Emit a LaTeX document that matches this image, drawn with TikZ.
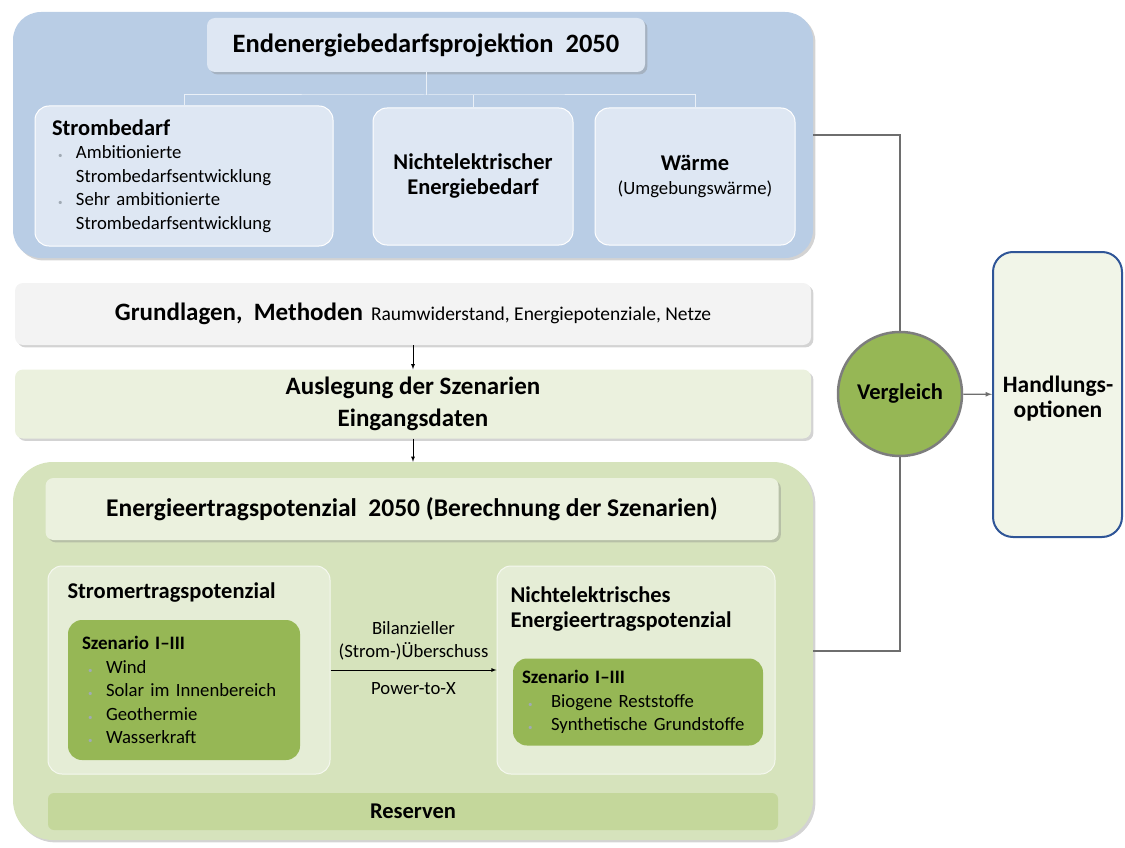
\documentclass[tikz,border=0pt]{standalone}
\usepackage{fontspec}
\setmainfont{Carlito}
\usepackage{tikz}
\usepackage{xcolor}
\usetikzlibrary{arrows,positioning,calc,shadows}
\definecolor{skyblue}{RGB}{185,205,229}
\definecolor{paleblue}{RGB}{222,231,243}
\definecolor{mist}{RGB}{243,243,243}
\definecolor{sage}{RGB}{214,227,188}
\definecolor{palesage}{RGB}{235,241,222}
\definecolor{lightsage}{RGB}{229,237,214}
\definecolor{olive}{RGB}{150,183,85}
\definecolor{reserve}{RGB}{196,215,155}
\definecolor{navy}{RGB}{47,85,151}
\definecolor{wire}{RGB}{110,110,110}
\definecolor{dotgrey}{RGB}{160,170,180}
\newcommand{\fbody}{\fontsize{18.7}{23.5}\selectfont}
\newcommand{\fhead}{\fontsize{22.5}{25}\selectfont\bfseries}
\newcommand{\itm}[1][24pt]{\makebox[#1][l]{\hspace{6pt}\textcolor{dotgrey}{\fontsize{9}{9}\selectfont\textbullet}}}
\newcommand{\ind}{\hspace*{24pt}}

\begin{document}
\begin{tikzpicture}[x=1pt,y=-1pt,
  panel/.style={rounded corners=28pt, drop shadow={opacity=0.35}},
  card/.style={draw=white, line width=1pt, rounded corners=14pt},
  strip/.style={rounded corners=8pt, drop shadow={opacity=0.35}},
  tree/.style={draw=white!70!skyblue, line width=1pt},
  flow/.style={->, >=latex, thick},
  wire/.style={draw=wire, line width=1.4pt}]
\useasboundingbox (0,0) rectangle (1125,848);

% Endenergiebedarfsprojektion
\node[panel, fill=skyblue, minimum width=800pt, minimum height=246pt] (demand) at (413,135) {};
\node[strip, fill=paleblue, minimum width=438pt, minimum height=54pt, font=\fontsize{26.5}{26.5}\selectfont\bfseries] (title) at (426,45) {Endenergiebedarfsprojektion\ \ 2050};
\node[card, fill=paleblue, minimum width=298pt, minimum height=140pt, text width=264pt, inner xsep=17pt, align=left, font=\fbody] (stromb) at (184,176)
  {{\fhead Strombedarf}\\
   \itm Ambitionierte\\
   \ind Strombedarfsentwicklung\\
   \itm Sehr ambitionierte\\
   \ind Strombedarfsentwicklung};
\node[card, fill=paleblue, minimum width=200pt, minimum height=137pt, align=center, font=\fhead] (nichtel) at (473,176.5) {Nichtelektrischer\\Energiebedarf};
\node[card, fill=paleblue, minimum width=200pt, minimum height=137pt, align=center, font=\fbody] (waerme) at (695,176.5) {{\fhead Wärme}\\(Umgebungswärme)};
\coordinate (bus) at (426,95);
\draw[tree] (title.south) -- (bus);
\draw[tree] (stromb.north) |- (bus) -| (waerme.north);
\draw[tree] (nichtel.north) -- (nichtel.north |- bus);

% Grundlagen und Auslegung
\node[strip, fill=mist, minimum width=796pt, minimum height=62pt] (grund) at (413,314)
  {{\fontsize{25}{25}\selectfont\bfseries Grundlagen,\ \ Methoden}\hspace{8pt}{\fontsize{19.5}{19.5}\selectfont Raumwiderstand, Energiepotenziale, Netze}};
\node[strip, fill=palesage, minimum width=796pt, minimum height=69pt, align=center, font=\fontsize{25}{32}\selectfont\bfseries] (ausl) at (413,404)
  {Auslegung der Szenarien\\Eingangsdaten};
\draw[flow] (grund) -- (ausl);

% Energieertragspotenzial
\node[panel, fill=sage, rounded corners=40pt, minimum width=800pt, minimum height=378pt] (supply) at (413,651) {};
\draw[flow] (ausl) -- (supply);
\node[strip, fill=palesage, minimum width=733pt, minimum height=62pt, font=\fontsize{25.5}{25.5}\selectfont\bfseries] (calc) at (412,509)
  {Energieertragspotenzial\ \ 2050 (Berechnung der Szenarien)};
\node[card, draw=lightsage!40!white, fill=lightsage, minimum width=282pt, minimum height=208pt] (stromp) at (189,670) {};
\node[anchor=west, font=\fhead] (stromh) at (64,593) {Stromertragspotenzial};
\node[card, draw=none, fill=olive, minimum width=232pt, minimum height=140pt, text width=204pt, inner xsep=14pt, align=left, font=\fbody] (szen1) at (184,690)
  {{\fontsize{19}{22}\selectfont\bfseries Szenario I--III}\\
   \itm Wind\\
   \itm Solar im Innenbereich\\
   \itm Geothermie\\
   \itm Wasserkraft};
\node[card, draw=lightsage!40!white, fill=lightsage, minimum width=278pt, minimum height=208pt] (nelp) at (636,670) {};
\node[anchor=west, align=left, font=\fhead] (nelh) at (507,609.5) {Nichtelektrisches\\Energieertragspotenzial};
\node[card, draw=none, fill=olive, minimum width=250pt, minimum height=87pt, text width=232pt, inner xsep=9pt, align=left, font=\fbody] (szen2) at (638,702)
  {{\fontsize{19}{22}\selectfont\bfseries Szenario I--III}\\
   \itm[29pt]Biogene Reststoffe\\
   \itm[29pt]Synthetische Grundstoffe};
\draw[flow] (stromp) -- (nelp)
  node[midway, above=6pt, align=center, font=\fbody] (surplus) {Bilanzieller\\(Strom-)Überschuss}
  node[midway, below=9pt, font=\fbody] (ptx) {Power-to-X};
\node[rounded corners=6pt, fill=reserve, minimum width=730pt, minimum height=37pt, font=\fhead] (reserve) at (413,811.5) {Reserven};

% Vergleich und Handlungsoptionen
\node[circle, draw=wire!90, line width=2.5pt, fill=olive, minimum size=124pt, font=\fontsize{22.5}{22.5}\selectfont\bfseries] (vgl) at (900,394) {Vergleich};
\node[draw=navy, line width=2pt, rounded corners=20pt, fill=palesage!70!white, minimum width=129pt, minimum height=285pt] (optionen) at (1057.5,394.5) {};
\node[align=center, font=\fontsize{23.5}{25}\selectfont\bfseries] (optext) at (1058,399) {Handlungs-\\optionen};
\draw[wire] (demand.east) -| (vgl.north);
\draw[wire] (supply.east) -| (vgl.south);
\draw[wire, ->, >=latex, line width=1.2pt] (vgl) -- (optionen);
\end{tikzpicture}
\end{document}
